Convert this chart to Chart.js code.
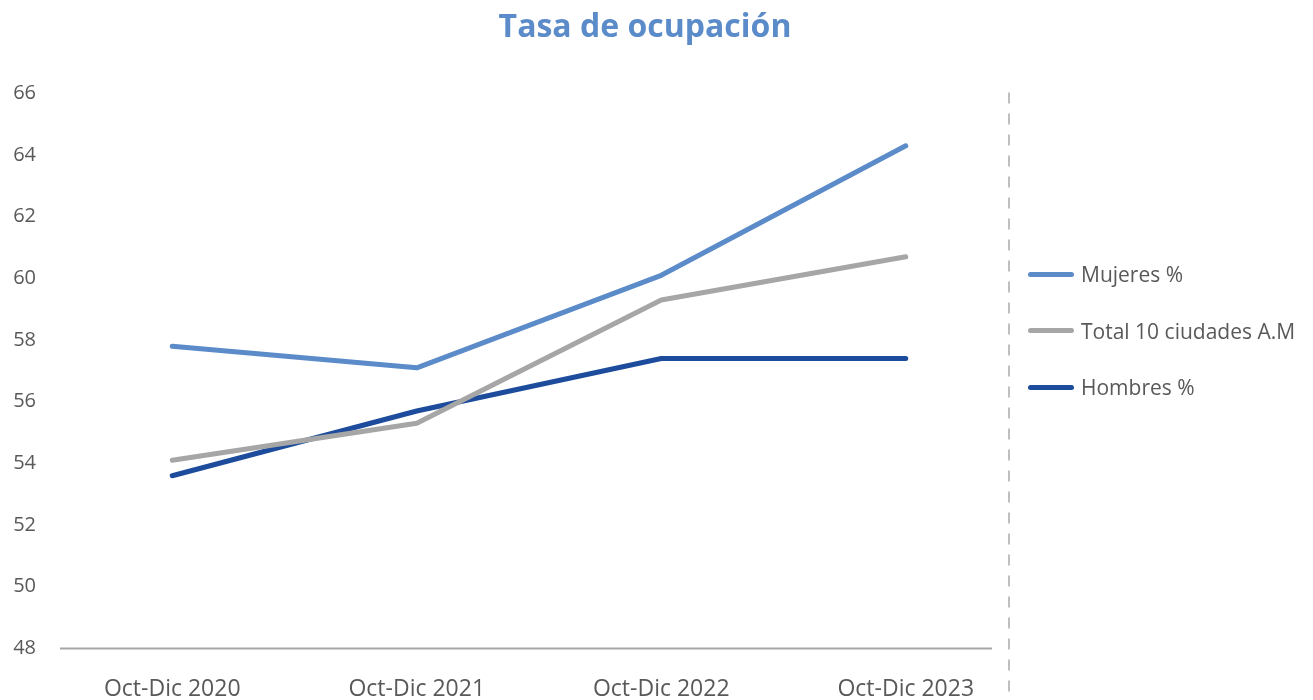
<!DOCTYPE html>
<html lang="es">
<head>
<meta charset="utf-8">
<title>Tasa de ocupación</title>
<script src="https://cdn.jsdelivr.net/npm/chart.js@4.4.1/dist/chart.umd.min.js"></script>
<style>
  html, body { margin: 0; padding: 0; background: #fff; overflow: hidden; }
  #wrap { position: relative; width: 1313px; height: 700px; overflow: hidden; }
  #chart { position: absolute; left: 0; top: 0; }
  #legend { position: absolute; left: 1028px; top: 0; font-family: 'Open Sans', sans-serif; font-size: 21px; color: #595959; }
  .item { position: absolute; left: 0; display: flex; align-items: center; white-space: nowrap; line-height: 28px; height: 28px; }
  .swatch { width: 46px; height: 5px; border-radius: 3px; margin-right: 7px; }
</style>
</head>
<body>
<div id="wrap">
  <canvas id="chart" width="1313" height="722"></canvas>
  <div id="legend"></div>
</div>
<script>
// datos
const categories = ['Oct-Dic 2020', 'Oct-Dic 2021', 'Oct-Dic 2022', 'Oct-Dic 2023'];
const mujeres = [57.8, 57.1, 60.1, 64.3];
const total10 = [54.1, 55.3, 59.3, 60.7];
const hombres = [53.6, 55.7, 57.4, 57.4];
const seriesNames = ['Mujeres %', 'Total 10 ciudades A.M', 'Hombres %'];
const seriesColors = ['#5b8bc9', '#a6a6a6', '#1c4c9b'];

const textColor = '#595959';

// eje inferior y linea punteada del costado
const decor = {
  id: 'decor',
  beforeDatasetsDraw(chart) {
    const { ctx, chartArea } = chart;
    ctx.save();
    ctx.strokeStyle = '#a6a6a6';
    ctx.lineWidth = 2;
    ctx.beginPath();
    ctx.moveTo(chartArea.left + 10, chartArea.bottom);
    ctx.lineTo(chartArea.right - 36, chartArea.bottom);
    ctx.stroke();

    ctx.strokeStyle = '#bfbfbf';
    ctx.setLineDash([11, 10]);
    ctx.beginPath();
    ctx.moveTo(chartArea.right - 19, chartArea.top - 1);
    ctx.lineTo(chartArea.right - 19, chart.height);
    ctx.stroke();
    ctx.restore();
  }
};

const datasets = [mujeres, total10, hombres].map((values, i) => ({
  label: seriesNames[i],
  data: values,
  borderColor: seriesColors[i],
  backgroundColor: seriesColors[i],
  borderWidth: 5,
  borderCapStyle: 'round',
  borderJoinStyle: 'round',
  pointRadius: 0,
  tension: 0
}));

const chart = new Chart(document.getElementById('chart'), {
  type: 'line',
  data: { labels: categories, datasets: datasets },
  options: {
    responsive: false,
    animation: false,
    layout: { padding: { left: 10, right: 33, top: 0, bottom: 0 } },
    plugins: {
      legend: { display: false },
      tooltip: { enabled: false },
      title: {
        display: true,
        text: 'Tasa de ocupación',
        color: '#5b8bc9',
        font: { family: "'Open Sans'", size: 32, weight: 'bold' },
        padding: { top: 9, bottom: 46 }
      }
    },
    scales: {
      x: {
        offset: true,
        grid: { display: false },
        border: { display: false },
        ticks: {
          color: textColor,
          font: { family: "'Open Sans'", size: 23 },
          maxRotation: 0,
          padding: 19
        }
      },
      y: {
        min: 48,
        max: 66,
        grid: { display: false, drawTicks: false },
        border: { display: false },
        ticks: {
          stepSize: 2,
          color: textColor,
          font: { family: "'Open Sans'", size: 20 },
          padding: 14
        },
        afterFit(scale) { scale.width = 40; }
      },
      // espacio reservado para la leyenda
      side: {
        position: 'right',
        min: 0,
        max: 1,
        grid: { display: false },
        border: { display: false },
        ticks: { display: false },
        afterFit(scale) { scale.width = 252; }
      }
    }
  },
  plugins: [decor]
});

// leyenda a la derecha
const legend = document.getElementById('legend');
chart.data.datasets.forEach((ds, i) => {
  const item = document.createElement('div');
  item.className = 'item';
  item.style.top = (260 + i * 56.5) + 'px';
  const sw = document.createElement('span');
  sw.className = 'swatch';
  sw.style.background = ds.borderColor;
  const txt = document.createElement('span');
  txt.textContent = ds.label;
  item.appendChild(sw);
  item.appendChild(txt);
  legend.appendChild(item);
});
</script>
</body>
</html>
